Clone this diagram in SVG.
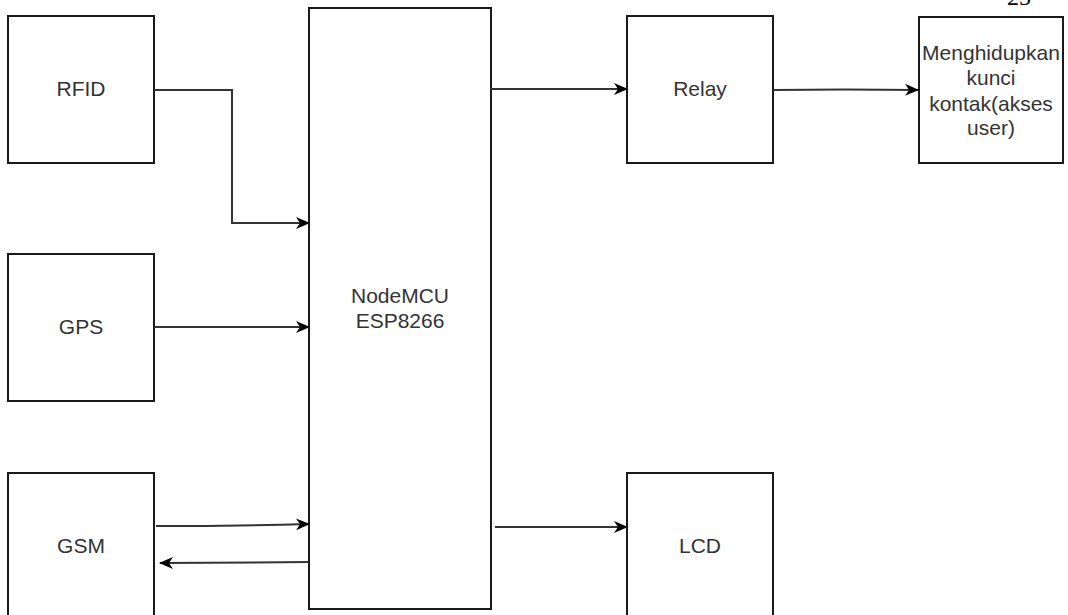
<svg xmlns="http://www.w3.org/2000/svg" width="1068" height="615" viewBox="0 0 1068 615">
<defs>
<style>
.box{fill:#fff;stroke:#1a1a1a;stroke-width:2}
.lbl{font-family:"Liberation Sans",Arial,sans-serif;font-size:21px;fill:#333;text-anchor:middle}
.con{fill:none;stroke:#333;stroke-width:2}
</style>
<marker id="arr" viewBox="0 0 14 14" refX="13" refY="7" markerWidth="14" markerHeight="14" markerUnits="userSpaceOnUse" orient="auto">
<path d="M0,1 L14,7 L0,13 L4,7 Z" fill="#000"/>
</marker>
</defs>
<rect width="1068" height="615" fill="#fff"/>
<text x="1007" y="5" style="font-family:'Liberation Serif','Times New Roman',serif;font-size:24px;fill:#000">25</text>
<g id="rfid"><rect class="box" x="8" y="16" width="146" height="147"/><text class="lbl" x="81" y="96">RFID</text></g>
<g id="gps"><rect class="box" x="8" y="254" width="146" height="147"/><text class="lbl" x="81" y="334">GPS</text></g>
<g id="gsm"><rect class="box" x="8" y="473" width="146" height="150"/><text class="lbl" x="81" y="553">GSM</text></g>
<g id="nodemcu"><rect class="box" x="309" y="8" width="182" height="601"/><text class="lbl" x="400" y="303">NodeMCU</text><text class="lbl" x="400" y="328">ESP8266</text></g>
<g id="relay"><rect class="box" x="627" y="16" width="146" height="147"/><text class="lbl" x="700" y="96">Relay</text></g>
<g id="lcd"><rect class="box" x="627" y="473" width="146" height="150"/><text class="lbl" x="700" y="553">LCD</text></g>
<g id="kunci"><rect class="box" x="919" y="17" width="144" height="146"/>
<text class="lbl" x="991" y="60">Menghidupkan</text>
<text class="lbl" x="991" y="85">kunci</text>
<text class="lbl" x="991" y="111">kontak(akses</text>
<text class="lbl" x="991" y="135">user)</text></g>
<g id="connectors">
<path class="con" d="M154,90 H232 V223 H309" marker-end="url(#arr)"/>
<path class="con" d="M154,327 H309" marker-end="url(#arr)"/>
<path class="con" d="M156,526 Q230,526 309,524" marker-end="url(#arr)"/>
<path class="con" d="M309,562 Q235,563 160,563" marker-end="url(#arr)"/>
<path class="con" d="M490,89 H627" marker-end="url(#arr)"/>
<path class="con" d="M773,90 Q845,89 918,90" marker-end="url(#arr)"/>
<path class="con" d="M495,527 H627" marker-end="url(#arr)"/>
</g>
</svg>
